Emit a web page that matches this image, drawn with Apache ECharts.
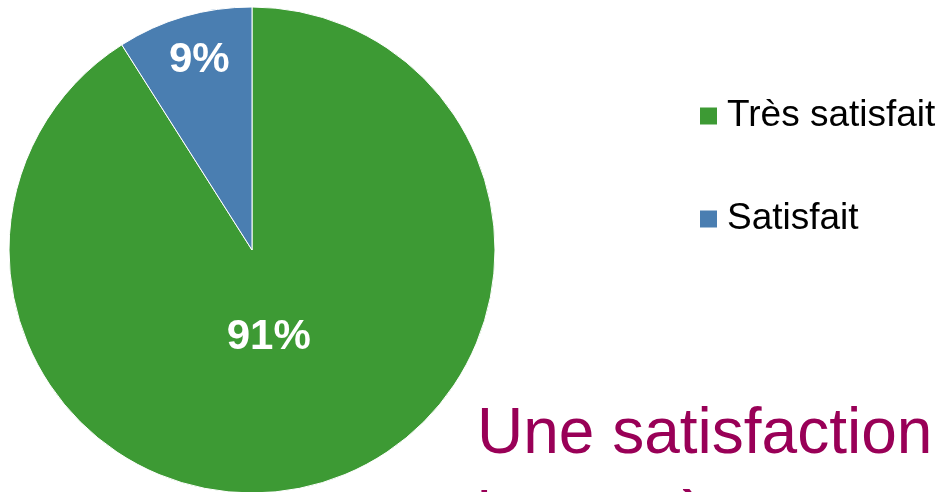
<!DOCTYPE html>
<html>
<head>
<meta charset="utf-8">
<script src="https://cdn.jsdelivr.net/npm/echarts@6/dist/echarts.min.js"></script>
<style>
  html, body { margin: 0; padding: 0; background: #fff; }
  #chart { width: 940px; height: 492px; }
</style>
</head>
<body>
<div id="chart"></div>
<script>
// data
const categories = ['Très satisfait', 'Satisfait'];
const shares = [91, 9];
const colors = ['#3D9A34', '#4A7EB1'];
const headline = 'Une satisfaction\nhomogène et constante';

// nudges for the inside labels (PowerPoint best-fit placement)
const labelShift = [[-18, -32], [-18, -70]];

const chart = echarts.init(document.getElementById('chart'));

const option = {
  animation: false,
  textStyle: { fontFamily: 'Liberation Sans, Arial, sans-serif' },
  title: {
    text: headline,
    left: 477,
    top: 393,
    padding: 0,
    textStyle: {
      fontFamily: 'Liberation Sans, Arial, sans-serif',
      fontSize: 64,
      lineHeight: 84,
      fontWeight: 'normal',
      color: '#990057'
    }
  },
  legend: {
    orient: 'vertical',
    left: 698,
    top: 96,
    padding: 0,
    itemWidth: 19,
    itemHeight: 19,
    itemGap: 63,
    icon: 'rect',
    selectedMode: false,
    data: categories,
    textStyle: {
      fontFamily: 'Liberation Sans, Arial, sans-serif',
      fontSize: 37,
      lineHeight: 40,
      color: '#000',
      padding: [0, 0, 0, 4]
    }
  },
  series: [
    {
      type: 'pie',
      center: [252, 250],
      radius: 243,
      startAngle: 90,
      clockwise: true,
      color: colors,
      itemStyle: { borderColor: '#fff', borderWidth: 1 },
      emphasis: { disabled: true },
      label: {
        show: true,
        position: 'inside',
        formatter: '{d}%',
        color: '#fff',
        fontSize: 42,
        fontWeight: 'bold',
        fontFamily: 'Liberation Sans, Arial, sans-serif'
      },
      labelLine: { show: false },
      labelLayout: function (params) {
        const s = labelShift[params.dataIndex];
        return { dx: s[0], dy: s[1] };
      },
      data: categories.map((c, i) => ({ name: c, value: shares[i] }))
    }
  ]
};

chart.setOption(option);
</script>
</body>
</html>
